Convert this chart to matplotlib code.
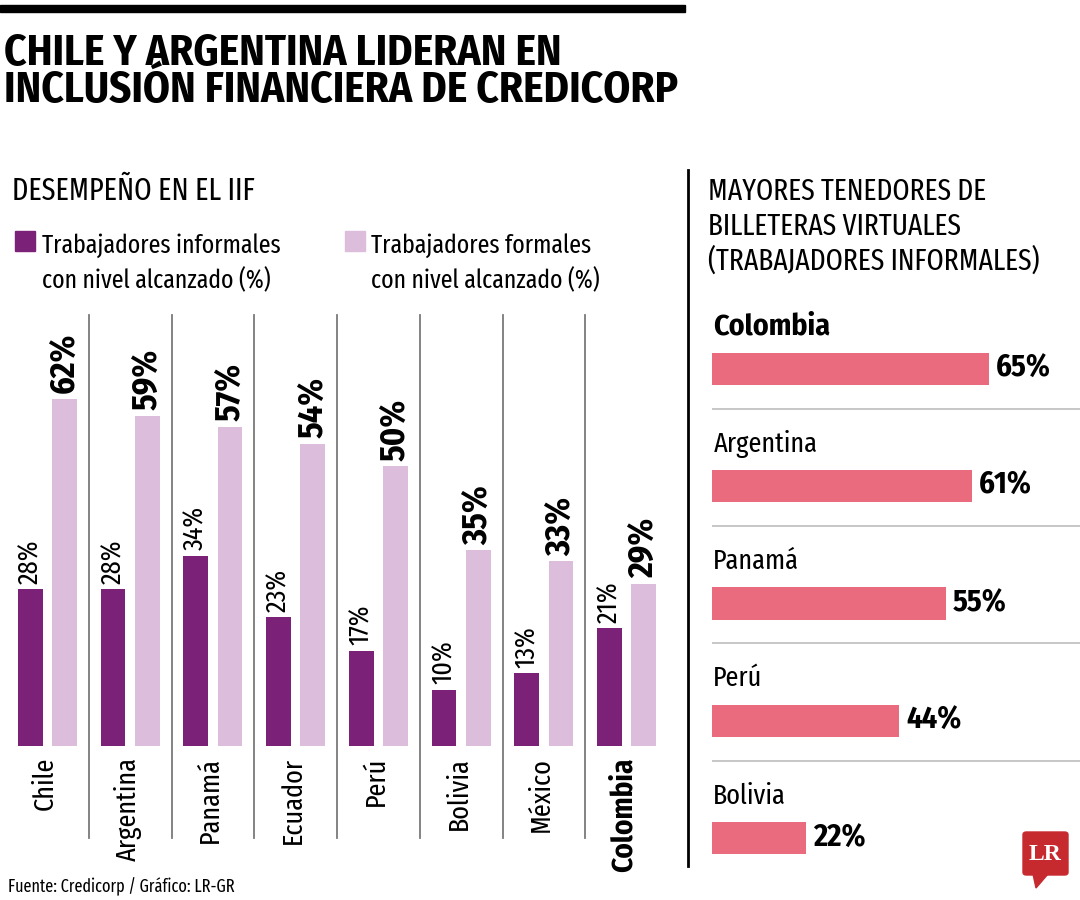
import matplotlib.pyplot as plt
from matplotlib.patches import FancyBboxPatch, Polygon
import numpy as np

# ===== Data =====
paises = ['Chile', 'Argentina', 'Panamá', 'Ecuador', 'Perú', 'Bolivia', 'México', 'Colombia']
informales = [28, 28, 34, 23, 17, 10, 13, 21]
formales = [62, 59, 57, 54, 50, 35, 33, 29]

billetera_paises = ['Colombia', 'Argentina', 'Panamá', 'Perú', 'Bolivia']
billetera_vals = [65, 61, 55, 44, 22]

# ===== Style =====
FONT_R = ['Fira Sans Extra Condensed', 'Fira Sans Condensed', 'DejaVu Sans']
FONT_B = ['Fira Sans Condensed', 'DejaVu Sans']
plt.rcParams['font.family'] = FONT_R
C_INF = '#7b2178'
C_FOR = '#dcbddc'
C_BIL = '#ea6b7e'
C_SEP = '#7a7a7a'

W, H = 1080, 900
fig = plt.figure(figsize=(W / 100, H / 100), dpi=100)


def fx(x):
    return x / W


def fy(y):
    return 1 - y / H


# top black rule
fig.patches.append(plt.Rectangle((0, fy(12)), fx(685), 7 / H, color='black',
                                 transform=fig.transFigure))

# title
fig.text(fx(4), fy(65), 'CHILE Y ARGENTINA LIDERAN EN', fontsize=31, fontweight='bold',
         family=FONT_B, va='baseline', ha='left')
fig.text(fx(4), fy(102), 'INCLUSIÓN FINANCIERA DE CREDICORP', fontsize=31, fontweight='bold',
         family=FONT_B, va='baseline', ha='left')

# left subtitle + legend
fig.text(fx(12), fy(200), 'DESEMPEÑO EN EL IIF', fontsize=22, va='baseline')
fig.patches.append(plt.Rectangle((fx(15), fy(251)), 20 / W, 20 / H, color=C_INF,
                                 transform=fig.transFigure))
fig.patches.append(plt.Rectangle((fx(345), fy(251)), 20 / W, 20 / H, color=C_FOR,
                                 transform=fig.transFigure))
fig.text(fx(42), fy(253), 'Trabajadores informales', fontsize=18.7, va='baseline')
fig.text(fx(42), fy(288), 'con nivel alcanzado (%)', fontsize=18.7, va='baseline')
fig.text(fx(371), fy(253), 'Trabajadores formales', fontsize=18.7, va='baseline')
fig.text(fx(371), fy(288), 'con nivel alcanzado (%)', fontsize=18.7, va='baseline')

# ===== Left grouped bars =====
ax = fig.add_axes([fx(6), fy(746), fx(668) - fx(6), (746 - 315) / H])
x = np.arange(len(paises))
off = 0.206
bw = 0.30
ax.bar(x - off, informales, bw, color=C_INF)
ax.bar(x + off, formales, bw, color=C_FOR)
ax.set_xlim(-0.5, len(paises) - 0.5)
ax.set_ylim(0, 77)
ax.axis('off')

y_bot = -(838 - 746) / (746 - 315)
for i in range(len(paises) - 1):
    ax.plot([i + 0.5, i + 0.5], [y_bot, 1], color=C_SEP, lw=1.3,
            transform=ax.get_xaxis_transform(), clip_on=False)

for i, (a, b) in enumerate(zip(informales, formales)):
    ax.annotate(f'{a}%', (i - off, a), xytext=(0, 4), textcoords='offset points',
                rotation=90, ha='center', va='bottom', fontsize=20.5)
    ax.annotate(f'{b}%', (i + off, b), xytext=(0, 4), textcoords='offset points',
                rotation=90, ha='center', va='bottom', fontsize=24.5, fontweight='bold',
                family=FONT_B)
    bold = paises[i] == 'Colombia'
    ax.annotate(paises[i], (i - 0.03, 0), xytext=(0, -8), textcoords='offset points',
                rotation=90, ha='center', va='top', fontsize=21 if bold else 20.5,
                fontweight='bold' if bold else 'normal',
                family=FONT_B if bold else FONT_R)

# ===== Right panel =====
fig.add_artist(plt.Line2D([fx(688), fx(688)], [fy(170), fy(866)], color='black', lw=2))
fig.text(fx(708), fy(200), 'MAYORES TENEDORES DE', fontsize=21.5, va='baseline')
fig.text(fx(708), fy(235), 'BILLETERAS VIRTUALES', fontsize=21.5, va='baseline')
fig.text(fx(708), fy(270), '(TRABAJADORES INFORMALES)', fontsize=21.5, va='baseline')

ax2 = fig.add_axes([fx(712), fy(897), fx(1080) - fx(712), (897 - 310) / H])
yb = np.arange(len(billetera_paises))
xmax = (1080 - 712) / 4.26
ax2.barh(yb, billetera_vals, 0.275, color=C_BIL)
ax2.set_xlim(0, xmax)
ax2.set_ylim(len(billetera_paises) - 0.5, -0.5)
ax2.axis('off')
ax2.hlines(yb[:-1] + 0.34, 0.05, xmax, color='#bdbdbd', lw=1.2)
for i, (p, v) in enumerate(zip(billetera_paises, billetera_vals)):
    bold = p == 'Colombia'
    ax2.text(0.3, i - 0.36, p, fontsize=21.5 if bold else 20.5, va='center', ha='left',
             fontweight='bold' if bold else 'normal', family=FONT_B if bold else FONT_R)
    ax2.annotate(f'{v}%', (v, i), xytext=(5, 0), textcoords='offset points',
                 va='center', ha='left', fontsize=22, fontweight='bold', family=FONT_B)

# footer
fig.text(fx(8), fy(892), 'Fuente: Credicorp / Gráfico: LR-GR', fontsize=12.7, va='baseline')

# LR logo
fig.patches.append(FancyBboxPatch((fx(1023), fy(875)), 45 / W, 43 / H,
                                  boxstyle='round,pad=0,rounding_size=0.003',
                                  color='#c62a2f', transform=fig.transFigure))
fig.patches.append(Polygon([(fx(1033), fy(874)), (fx(1048), fy(874)), (fx(1036), fy(888))],
                           closed=True, color='#c62a2f', transform=fig.transFigure))
fig.text(fx(1045.5), fy(854), 'LR', fontsize=17, fontweight='bold', color='white',
         family=['Liberation Serif', 'DejaVu Serif'], ha='center', va='center')

fig.savefig('out.png', dpi=100)
